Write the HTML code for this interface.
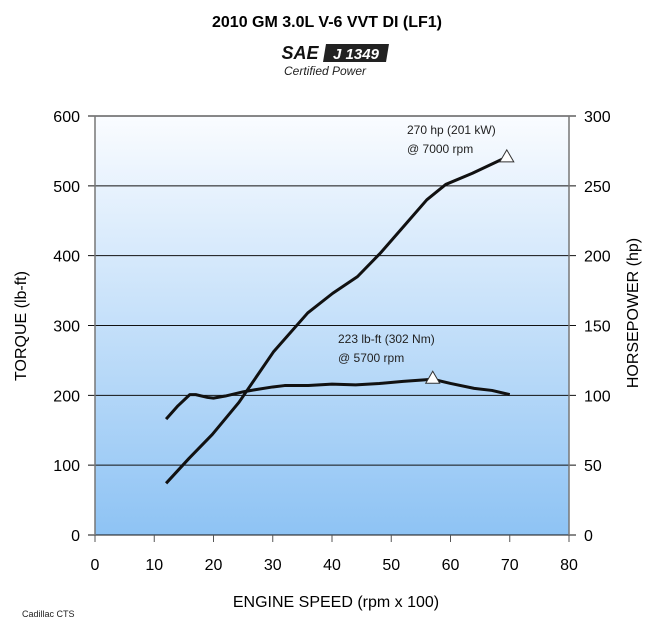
<!DOCTYPE html>
<html><head><meta charset="utf-8"><style>
body{margin:0;background:#fff;}
svg text{font-family:"Liberation Sans",Arial,sans-serif;}
</style></head><body>
<svg id="chart" width="650" height="625" viewBox="0 0 650 625" xmlns="http://www.w3.org/2000/svg">
<defs><linearGradient id="bg" x1="0" y1="0" x2="0" y2="1">
<stop offset="0" stop-color="#fafcff"/><stop offset="1" stop-color="#8ec3f4"/></linearGradient></defs>
<text x="327" y="27" text-anchor="middle" font-size="16" font-weight="bold">2010 GM 3.0L V-6 VVT DI (LF1)</text>
<g>
<text x="300" y="59" text-anchor="middle" font-size="18" font-weight="bold" font-style="italic" fill="#111">SAE</text>
<polygon points="326,44 389,44 386,62 323,62" fill="#222"/>
<text x="356" y="59" text-anchor="middle" font-size="15" font-weight="bold" font-style="italic" fill="#fff">J 1349</text>
<text x="325" y="75" text-anchor="middle" font-size="12" font-style="italic" fill="#222">Certified Power</text>
</g>
<rect x="95" y="116" width="474" height="419" fill="url(#bg)"/>
<g id="grid"></g>
<path id="torque" fill="none" stroke="#111" stroke-width="3" stroke-linejoin="round"/>
<path id="hp" fill="none" stroke="#111" stroke-width="3" stroke-linejoin="round"/>
<g id="marks"></g>
<text x="407" y="134" font-size="12" fill="#222">270 hp (201 kW)</text>
<text x="407" y="153" font-size="12" fill="#222">@ 7000 rpm</text>
<text x="338" y="343" font-size="12" fill="#222">223 lb-ft (302 Nm)</text>
<text x="338" y="362" font-size="12" fill="#222">@ 5700 rpm</text>
<text x="336" y="607" text-anchor="middle" font-size="16">ENGINE SPEED (rpm x 100)</text>
<text transform="translate(26,326) rotate(-90)" text-anchor="middle" font-size="16">TORQUE (lb-ft)</text>
<text transform="translate(638,313) rotate(-90)" text-anchor="middle" font-size="16">HORSEPOWER (hp)</text>
<text x="22" y="617" font-size="9" fill="#222">Cadillac CTS</text>
</svg>
<script>
const xTicks=[0,10,20,30,40,50,60,70,80];
const torqueTicks=[0,100,200,300,400,500,600];
const hpTicks=[0,50,100,150,200,250,300];
const torqueRpm=[12,14,16,17,19,20,22,25,27,30,32,36,40,44,48,52,57,60,64,67,70];
const torqueVals=[166,185,201,201,197,196,199,205,208,212,214,214,216,215,217,220,223,217,210,207,201];
const hpRpm=[12,15.9,19.8,24.3,30.1,35.9,40.1,44.3,48.2,52.1,56,59.2,63.7,69.2];
const hpVals=[37,55,72,95,131,159,173,185,202,221,240,251,259,270];
const torquePeak=[57,223];
const hpPeak=[69.5,270];
const NS="http://www.w3.org/2000/svg";
const X=v=>95+v*(474/80);
const YT=v=>535-v*(419/600);
const YH=v=>535-v*(419/300);
function mk(tag,attrs,parent){const e=document.createElementNS(NS,tag);for(const k in attrs)e.setAttribute(k,attrs[k]);parent.appendChild(e);return e;}
const grid=document.getElementById('grid');
torqueTicks.forEach((t,i)=>{
 const l=mk('line',{x1:88,x2:576,y1:YT(t),y2:YT(t),stroke:'#111','stroke-width':1},grid);
 
 
 const a=mk('text',{x:80,y:YT(t)+6,'text-anchor':'end','font-size':16},grid);a.textContent=t;
 
 
 const b=mk('text',{x:584,y:YT(t)+6,'font-size':16},grid);b.textContent=hpTicks[i];
 
 
});
mk('line',{x1:95,x2:95,y1:116,y2:535,stroke:'#777','stroke-width':1.5},grid);
mk('line',{x1:569,x2:569,y1:116,y2:535,stroke:'#777','stroke-width':1.5},grid);
xTicks.forEach(t=>{
 mk('line',{x1:X(t),x2:X(t),y1:535,y2:542,stroke:'#555','stroke-width':1},grid);
 const a=mk('text',{x:X(t),y:570,'text-anchor':'middle','font-size':16},grid);a.textContent=t;
 
 
});
document.getElementById('torque').setAttribute('d',torqueRpm.map((r,i)=>(i?'L':'M')+X(r)+','+YT(torqueVals[i])).join(' '));
document.getElementById('hp').setAttribute('d',hpRpm.map((r,i)=>(i?'L':'M')+X(r)+','+YH(hpVals[i])).join(' '));
const marks=document.getElementById('marks');
function tri(x,y,name){const p=mk('path',{d:`M${x},${y-8} L${x+7},${y+4} L${x-7},${y+4} Z`,fill:'#fff',stroke:'#333','stroke-width':1},marks);
 
 }
tri(X(torquePeak[0]),YT(torquePeak[1]),'torque-peak-marker');
tri(X(hpPeak[0]),YH(hpPeak[1]),'hp-peak-marker');
</script>
</body></html>
